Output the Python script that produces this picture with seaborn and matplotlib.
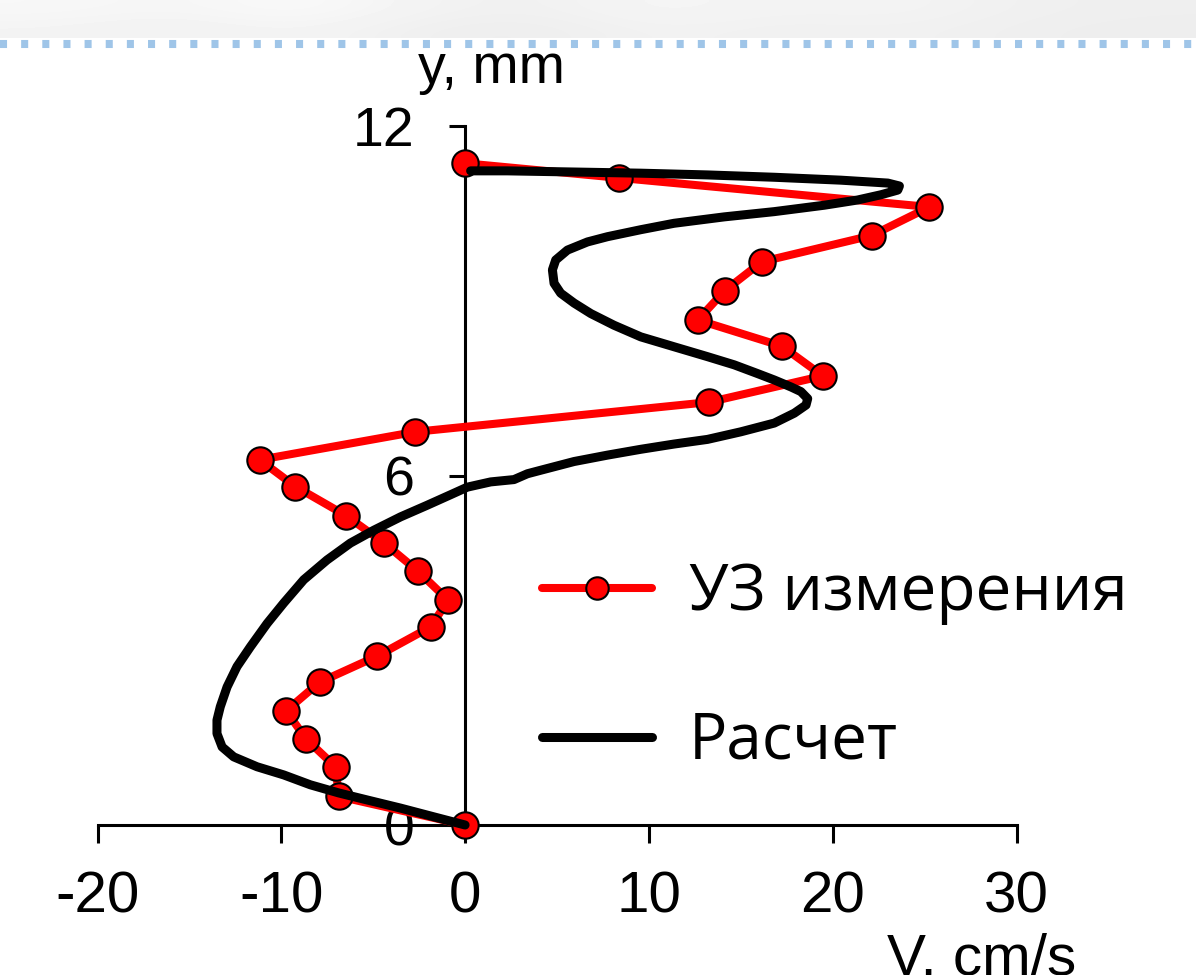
import numpy as np
import pandas as pd
import matplotlib
matplotlib.use("Agg")
import matplotlib.pyplot as plt
import seaborn as sns

# Measured velocity profile (ultrasound), V in cm/s vs height y in mm
meas_v = [0.0, -6.87, -7.05, -8.63, -9.74, -7.92, -4.78, -1.88, -0.92, -2.57,
          -4.40, -6.47, -9.23, -11.18, -2.70, 13.28, 19.46, 17.24, 12.66, 14.12,
          16.15, 22.12, 25.26, 8.36, 0.0]
meas_y = [0.0, 0.49, 1.00, 1.47, 1.96, 2.45, 2.90, 3.40, 3.86, 4.36,
          4.84, 5.31, 5.81, 6.27, 6.75, 7.26, 7.71, 8.22, 8.67, 9.17,
          9.67, 10.12, 10.61, 11.11, 11.36]

# Computed profile
calc_v = [0.0, -1.70, -3.51, -5.33, -6.87, -8.42, -9.87, -11.32, -12.59, -13.22,
          -13.50, -13.50, -13.32, -12.95, -12.41, -11.68, -10.77, -9.87, -8.78, -7.51,
          -6.24, -4.97, -3.51, -2.06, -0.79, 0.12, 1.39, 2.66, 3.39, 4.11,
          5.93, 7.75, 9.56, 11.37, 13.19, 15.00, 16.82, 17.91, 18.55, 18.64,
          18.27, 17.73, 16.82, 15.91, 14.64, 13.19, 11.37, 9.56, 8.10, 6.84,
          5.93, 5.20, 4.84, 4.75, 4.93, 5.57, 6.66, 7.75, 9.56, 11.37,
          14.10, 16.82, 19.54, 21.36, 22.63, 23.54, 23.63, 23.00, 20.45, 16.82,
          13.19, 9.56, 5.93, 2.30, 0.30]
calc_y = [0.00, 0.14, 0.29, 0.43, 0.55, 0.69, 0.86, 1.00, 1.17, 1.34,
          1.57, 1.80, 2.03, 2.37, 2.72, 3.06, 3.46, 3.81, 4.21, 4.55,
          4.84, 5.06, 5.29, 5.49, 5.67, 5.80, 5.89, 5.93, 6.03, 6.09,
          6.24, 6.35, 6.45, 6.54, 6.62, 6.75, 6.90, 7.07, 7.21, 7.32,
          7.44, 7.52, 7.64, 7.75, 7.90, 8.04, 8.21, 8.38, 8.58, 8.78,
          8.96, 9.13, 9.30, 9.53, 9.70, 9.87, 10.01, 10.10, 10.22, 10.33,
          10.44, 10.53, 10.64, 10.73, 10.82, 10.90, 10.97, 11.02, 11.07, 11.12,
          11.16, 11.19, 11.21, 11.23, 11.23]

x_ticks = [-20, -10, 0, 10, 20, 30]
y_ticks = [0, 6, 12]
label_meas = "УЗ измерения"
label_calc = "Расчет"
x_label = "V, cm/s"
y_label = "y, mm"

sns.set_theme(style="white")
plt.rcParams["font.family"] = ["Liberation Sans", "DejaVu Sans"]
plt.rcParams["text.color"] = "black"
plt.rcParams["xtick.color"] = "black"
plt.rcParams["ytick.color"] = "black"

W, H = 1196, 975
fig = plt.figure(figsize=(W / 100, H / 100), dpi=100)
fig.patch.set_facecolor("white")

# header strip with a dotted rule
ax_bg = fig.add_axes([0, 0, 1, 1], zorder=-5)
ax_bg.set_xlim(0, W)
ax_bg.set_ylim(H, 0)
ax_bg.axis("off")
shade = np.array([[0.97, 0.96, 0.98, 0.95, 0.94, 0.965, 0.95, 0.955, 0.94, 0.935],
                  [0.955, 0.945, 0.96, 0.935, 0.93, 0.95, 0.94, 0.945, 0.935, 0.93]])
ax_bg.imshow(shade, extent=[0, W, 38, 0], cmap="gray", vmin=0, vmax=1,
             interpolation="bicubic", aspect="auto")
ax_bg.plot([0, W], [44, 44], color="#9fc5e8", lw=5.8, linestyle=(0, (0.875, 1.75)))

# main axes
ax = fig.add_axes([97.5 / W, 150 / H, 919 / W, 699 / H])
ax.set_facecolor("none")
ax.set_xlim(-20, 30)
ax.set_ylim(0, 12)

df_meas = pd.DataFrame({"v": meas_v, "y": meas_y})
df_calc = pd.DataFrame({"v": calc_v, "y": calc_y})

sns.lineplot(data=df_meas, x="v", y="y", sort=False, estimator=None, ax=ax,
             color="#ff0000", lw=5.8, marker="o", markersize=19,
             markerfacecolor="#ff0000", markeredgecolor="black",
             markeredgewidth=1.5, label=label_meas, zorder=3, clip_on=False,
             solid_joinstyle="round", solid_capstyle="round")
sns.lineplot(data=df_calc, x="v", y="y", sort=False, estimator=None, ax=ax,
             color="black", lw=6.5, label=label_calc, zorder=4, clip_on=False,
             solid_joinstyle="round", solid_capstyle="round")

for s in ("top", "right"):
    ax.spines[s].set_visible(False)
ax.spines["left"].set_position(("data", 0))
ax.spines["bottom"].set_position(("data", 0))
ax.spines["left"].set_bounds(0, 12)
ax.spines["bottom"].set_bounds(-20, 30)
for s in ("left", "bottom"):
    ax.spines[s].set_color("black")
    ax.spines[s].set_linewidth(2.2)
    ax.spines[s].set_zorder(2)

ax.set_xticks(x_ticks)
ax.set_yticks(y_ticks)
ax.set_xticklabels([str(t) for t in x_ticks])
ax.set_yticklabels([str(t) for t in y_ticks])
ax.tick_params(axis="x", direction="out", length=13, width=2.2, pad=20,
               labelsize=42, colors="black", bottom=True)
ax.tick_params(axis="y", direction="out", length=11.5, width=2.2, pad=25,
               labelsize=40, colors="black", left=True)
ax.set_xlabel("")
ax.set_ylabel("")

ax.text(1.44, 12.74, y_label, ha="center", va="baseline", fontsize=40,
        color="black", clip_on=False)
ax.text(28.08, -2.575, x_label, ha="center", va="baseline", fontsize=42,
        color="black", clip_on=False)

handles, labels = ax.get_legend_handles_labels()
leg = ax.legend(handles, labels, loc="upper left",
                bbox_to_anchor=(542 / W, 1 - 561 / H), bbox_transform=fig.transFigure,
                frameon=False, prop={"family": ["Open Sans", "DejaVu Sans"], "size": 46},
                handlelength=1.72, handletextpad=0.58, labelspacing=1.33,
                borderpad=0, borderaxespad=0, markerscale=0.85)
for t in leg.get_texts():
    t.set_color("black")

fig.savefig("out.png", dpi=100)
